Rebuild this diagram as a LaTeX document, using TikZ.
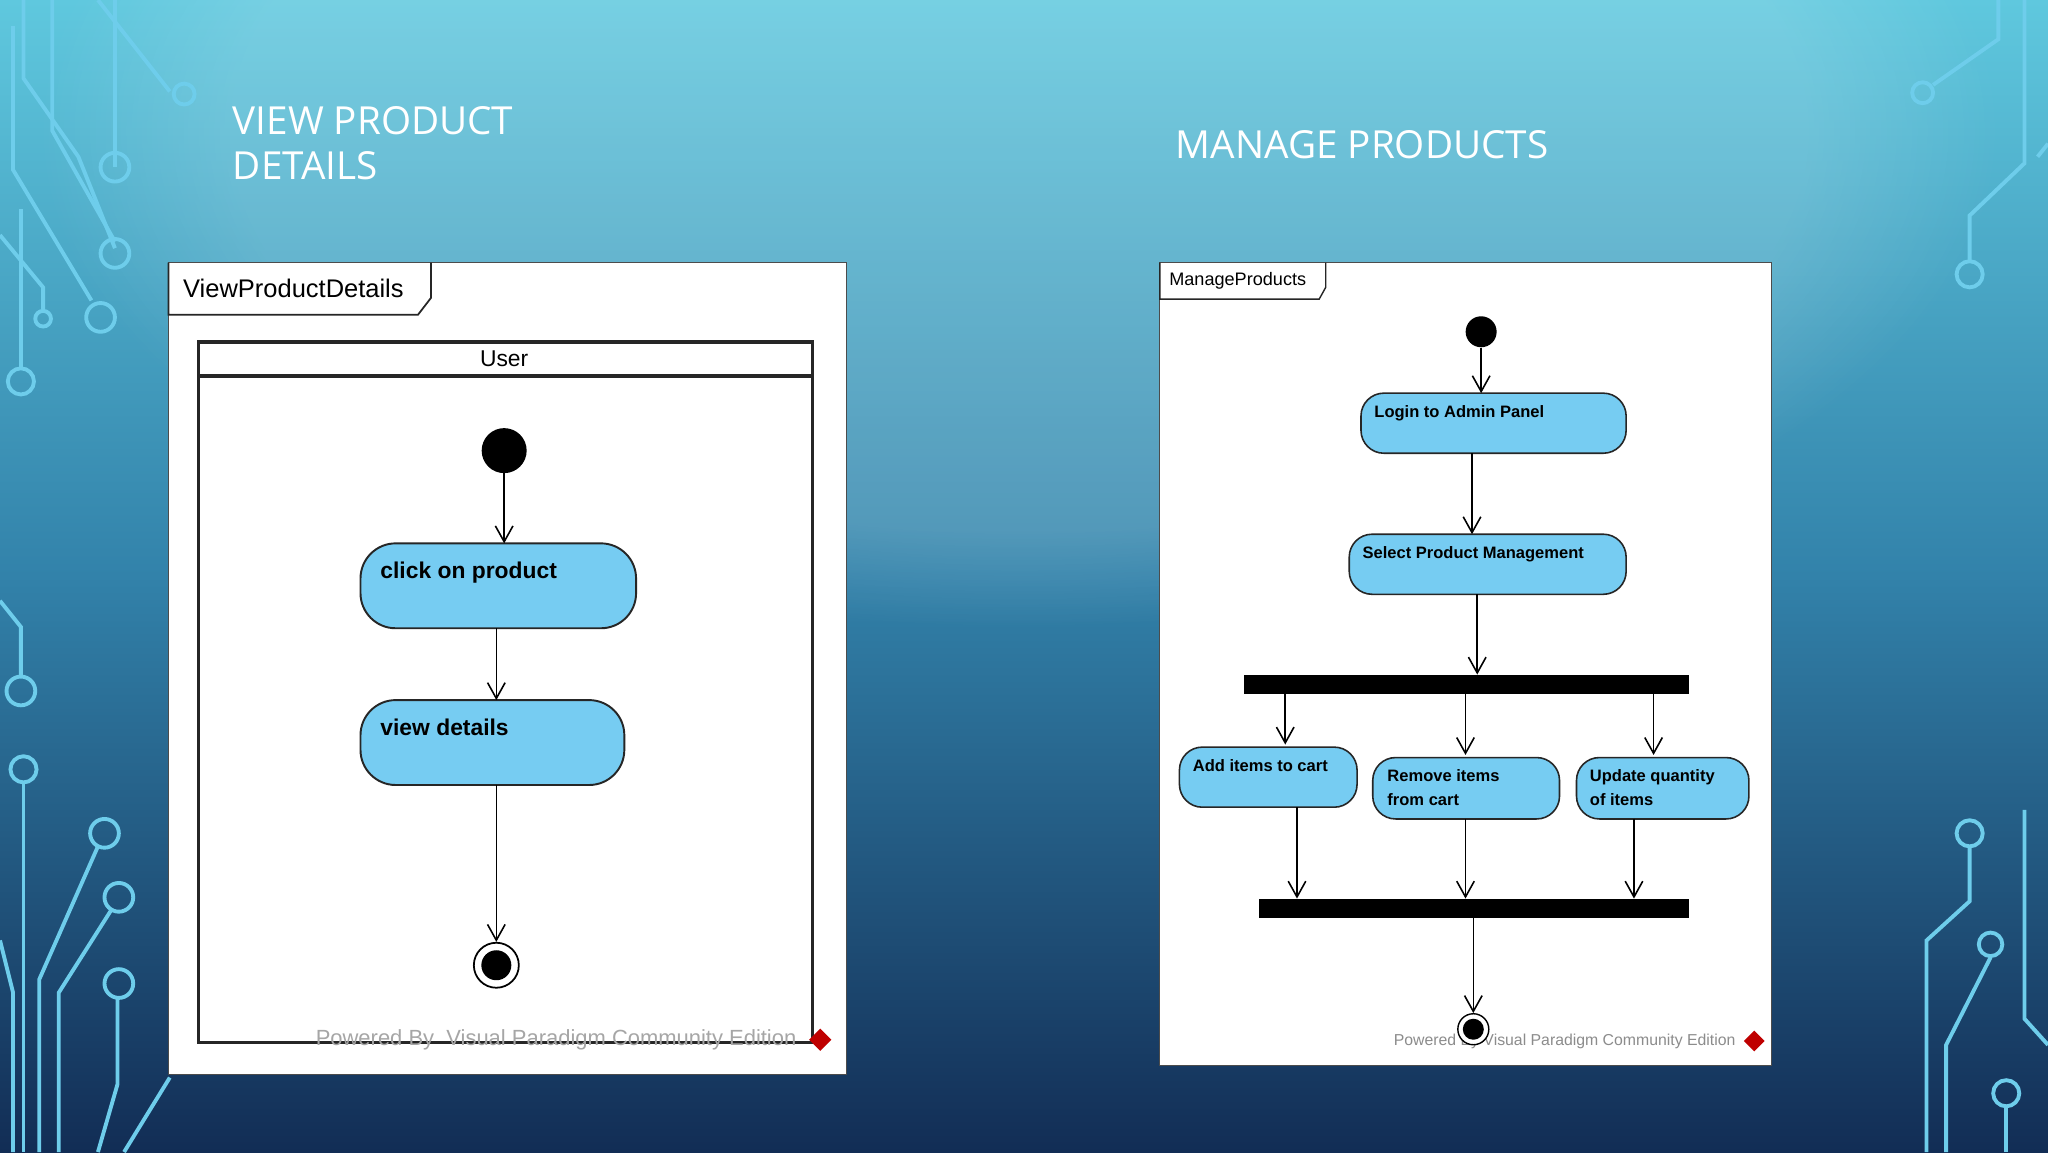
\documentclass[tikz,border=0pt]{standalone}
\usepackage{fontspec}
\setmainfont{Liberation Sans}
\newfontfamily\titlefont{Open Sans}
\usetikzlibrary{arrows.meta,calc,shapes.geometric,fadings}
\definecolor{act}{RGB}{118,204,242}
\definecolor{bgtop}{RGB}{95,200,222}
\definecolor{bgmid}{RGB}{50,130,170}
\definecolor{bgbot}{RGB}{18,45,85}
\definecolor{circ}{RGB}{110,205,235}
\begin{document}
\begin{tikzpicture}[x=0.02612cm,y=-0.02612cm,
  arr/.style={-{Straight Barb[length=9pt,width=10pt]},line width=0.9pt},
  actL/.style={draw=black!85,line width=1.1pt,fill=act,rounded corners=20pt},
  actR/.style={draw=black!85,line width=0.9pt,fill=act,rounded corners=13pt},
  txtL/.style={font=\fontsize{13}{15}\selectfont\bfseries,anchor=north west,inner sep=0pt},
  txtR/.style={font=\fontsize{9.4}{13.5}\selectfont\bfseries,anchor=north west,inner sep=0pt,align=left},
  bar/.style={fill=black,inner sep=0pt},
  circuit/.style={draw=circ,line width=2.2pt},
  ttl/.style={font=\titlefont\fontsize{22}{24}\selectfont,text=white,anchor=west,inner sep=0pt,align=left}]
\useasboundingbox (0,0) rectangle (1568,882);
\clip (0,0) rectangle (1568,882);
% background
\shade[top color=bgtop,bottom color=bgbot,middle color=bgmid] (0,0) rectangle (1568,882);
\fill[white,opacity=0.15,path fading=circle with fuzzy edge 20 percent] (780,100) ellipse (750 and 380);
% circuits left
\draw[circuit] (18,0)--(18,60)--(60,120)--(88,190);
\draw[circuit] (88,0)--(88,128);\draw[circuit] (88,128) circle (11);
\draw[circuit] (75,0)--(130,70);\draw[circuit] (141,72) circle (8);
\draw[circuit] (40,0)--(40,100)--(88,185);\draw[circuit] (88,194) circle (11);
\draw[circuit] (10,20)--(10,130)--(70,230);\draw[circuit] (77,243) circle (11);
\draw[circuit] (0,180)--(33,220)--(33,237);\draw[circuit] (33,244) circle (6);
\draw[circuit] (16,160)--(16,282);\draw[circuit] (16,292) circle (10);
\draw[circuit] (0,460)--(16,480)--(16,518);\draw[circuit] (16,529) circle (11);
\draw[circuit] (18,600)--(18,882);\draw[circuit] (18,589) circle (10);
\draw[circuit] (30,882)--(30,750)--(75,648);\draw[circuit] (80,638) circle (11);
\draw[circuit] (45,882)--(45,760)--(85,697);\draw[circuit] (91,687) circle (11);
\draw[circuit] (90,764)--(90,830)--(75,882);\draw[circuit] (91,753) circle (11);
\draw[circuit] (0,720)--(10,760)--(10,882);
\draw[circuit] (95,882)--(130,825);
% circuits right
\draw[circuit] (1530,0)--(1530,30)--(1480,65);\draw[circuit] (1472,71) circle (8);
\draw[circuit] (1550,0)--(1550,125)--(1508,165)--(1508,200);\draw[circuit] (1508,210) circle (10);
\draw[circuit] (1560,120)--(1568,110);
\draw[circuit] (1508,648)--(1508,690)--(1475,720)--(1475,882);\draw[circuit] (1508,638) circle (10);
\draw[circuit] (1524,733)--(1490,800)--(1490,882);\draw[circuit] (1524,723) circle (9);
\draw[circuit] (1536,847)--(1536,882);\draw[circuit] (1536,837) circle (10);
\draw[circuit] (1550,620)--(1550,780)--(1568,800);
% titles
\node[ttl] (t1) at (178,92) {VIEW PRODUCT};
\node[ttl] (t1b) at (178,127) {DETAILS};
\node[ttl] (t2) at (900,111) {MANAGE PRODUCTS};
% ---------- left panel
\fill[white] (129,201) rectangle (648,823);
\draw[black!70,line width=0.6pt] (129,201) rectangle (648,823);
\draw[black!85,line width=1pt] (129,201)--(129,241)--(320,241)--(330,228)--(330,201);
\node[font=\fontsize{14.5}{16}\selectfont,anchor=west,inner sep=0pt] (tab1) at (140,221) {ViewProductDetails};
\draw[black!85,line width=2pt] (152,262) rectangle (622,798);
\draw[black!85,line width=2pt] (152,288)--(622,288);
\node[font=\fontsize{13}{15}\selectfont,inner sep=0pt] (user) at (386,275) {User};
\node[circle,fill=black,inner sep=0pt,minimum size=0.9cm] (s1) at (386,345) {};
\path[actL] (276,416) rectangle (487,481);
\node[txtL] (a1) at (291,430) {click on product};
\coordinate (a1t) at (386,416);\coordinate (a1b) at (380,481);
\path[actL] (276,536) rectangle (478,601);
\node[txtL] (a2) at (291,550) {view details};
\coordinate (a2t) at (380,536);\coordinate (a2b) at (380,601);
\node[circle,draw=black,line width=1pt,fill=white,minimum size=0.9cm,inner sep=0pt] (f1) at (380,739) {};
\node[circle,fill=black,minimum size=0.6cm,inner sep=0pt] (f1i) at (380,739) {};
\draw[arr] (s1) -- (a1t);
\draw[arr] (a1b) -- (a2t);
\draw[arr] (a2b) -- (f1);
\node[font=\fontsize{12.5}{13}\selectfont,text=black!35,anchor=east,inner sep=0pt] (wm1) at (610,796) {Powered By\ \ Visual Paradigm Community Edition};
\node[diamond,fill=red!75!black,minimum size=0.45cm,inner sep=0pt] (vp1) at (628,796) {};
% ---------- right panel
\fill[white] (888,201) rectangle (1356,816);
\draw[black!70,line width=0.6pt] (888,201) rectangle (1356,816);
\draw[black!85,line width=0.8pt] (888,201)--(888,229)--(1010,229)--(1015,220)--(1015,201);
\node[font=\fontsize{10.3}{12}\selectfont,anchor=west,inner sep=0pt] (tab2) at (895,215) {ManageProducts};
\node[circle,fill=black,minimum size=0.62cm,inner sep=0pt] (s2) at (1134,254) {};
\path[actR] (1042,301) rectangle (1245,347);
\node[txtR] (login) at (1052,310) {Login to Admin Panel};
\coordinate (lt) at (1134,301);\coordinate (lb) at (1127,347);
\path[actR] (1033,409) rectangle (1245,455);
\node[txtR] (sel) at (1043,418) {Select Product Management};
\coordinate (st) at (1127,409);\coordinate (sb) at (1131,455);
\node[bar,minimum width=8.9cm,minimum height=0.38cm] (fork) at (1122.5,524) {};
\node[bar,minimum width=8.6cm,minimum height=0.38cm] (join) at (1128.5,695.5) {};
\path[actR] (903,572) rectangle (1039,618);
\node[txtR] (add) at (913,581) {Add items to cart};
\path[actR] (1051,580) rectangle (1194,627);
\node[txtR] (rem) at (1062,589) {Remove items\\from cart};
\path[actR] (1207,580) rectangle (1339,627);
\node[txtR] (upd) at (1217,589) {Update quantity\\of items};
\node[font=\fontsize{9}{10}\selectfont,text=black!45,anchor=east,inner sep=0pt] (wm2) at (1329,797) {Powered By Visual Paradigm Community Edition};
\node[diamond,fill=red!75!black,minimum size=0.42cm,inner sep=0pt] (vp2) at (1343,797) {};
\node[circle,draw=black,line width=0.8pt,fill=white,minimum size=0.62cm,inner sep=0pt] (f2) at (1128,788) {};
\node[circle,fill=black,minimum size=0.42cm,inner sep=0pt] (f2i) at (1128,788) {};
\coordinate (addT) at (984,570);\coordinate (remT) at (1122,578);\coordinate (updT) at (1266,578);
\coordinate (addB) at (993,618);\coordinate (remB) at (1122,627);\coordinate (updB) at (1251,627);
\draw[arr] (s2) -- (lt);
\draw[arr] (lb) -- (st);
\draw[arr] (sb) -- (sb |- fork.north);
\draw[arr] (fork.south -| addT) -- (addT);
\draw[arr] (fork.south -| remT) -- (remT);
\draw[arr] (fork.south -| updT) -- (updT);
\draw[arr] (addB) -- (addB |- join.north);
\draw[arr] (remB) -- (remB |- join.north);
\draw[arr] (updB) -- (updB |- join.north);
\draw[arr] (join.south -| f2) -- (f2);
\end{tikzpicture}
\end{document}
